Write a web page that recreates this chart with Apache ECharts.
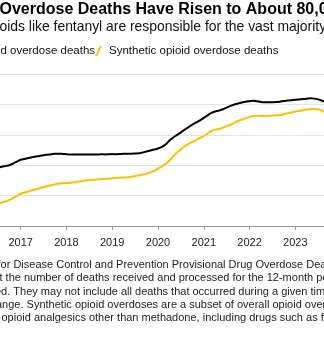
<!DOCTYPE html>
<html><head><meta charset="utf-8">
<script src="https://cdn.jsdelivr.net/npm/echarts@6/dist/echarts.min.js"></script>
<style>html,body{margin:0;padding:0;background:#fff;}#c{width:324px;height:339px;}</style>
</head><body><div id="c"></div>
<script>
// Monthly values (12-month ending totals), starting July 2016
const startYear = 2016;
const startMonth = 7;
const opioidDeaths = [38200,39000,39500,40000,41100,42400,43600,44100,44800,45300,45700,46100,
  46600,46900,47200,47600,47600,47400,47200,47000,47000,47000,47000,47100,
  47000,47100,47000,47200,47100,47200,47300,47200,47300,47500,47600,47600,
  47700,47800,48400,49000,49700,50300,51000,52000,53600,56300,58200,59900,
  61600,63400,65100,66700,68100,69500,71100,72800,74400,75300,75900,76800,
  77900,79000,79900,80600,81300,81800,82100,82400,82100,81600,81400,81400,
  81400,81500,81800,82200,82500,82800,83100,83300,83500,83700,84000,83800,
  83300,82400,81600,80900];
const syntheticDeaths = [14500,15300,16200,17000,18300,19700,21200,22000,22700,23500,24100,24900,
  25700,26200,26800,27400,27900,28200,28200,28400,28800,29100,29500,29900,
  30200,30400,30600,30800,31000,31200,31400,31600,31800,31900,32100,32400,
  32800,33300,33800,34300,35300,36200,37700,39200,40800,43100,45900,48400,
  50400,52500,54000,55300,56500,57900,59200,60900,62500,63400,63800,64700,
  65700,66600,67900,69100,70100,71000,71700,72400,72500,72400,72400,72500,
  72700,72800,73000,73600,74200,74700,75300,75700,76100,76600,77000,77000,
  76800,75700,74600,73700];
const yearTicks = [2017,2018,2019,2020,2021,2022,2023];
const seriesNames = ['Opioid overdose deaths','Synthetic opioid overdose deaths'];
const titleText = 'Opioid Overdose Deaths Have Risen to About 80,000';
const subtitleText = 'Synthetic opioids like fentanyl are responsible for the vast majority of deaths';
const footerLines = [
  'Source: Centers for Disease Control and Prevention Provisional Drug Overdose Death Counts',
  'Note: Data reflect the number of deaths received and processed for the 12-month period ending',
  'in the month indicated. They may not include all deaths that occurred during a given time period',
  'and are subject to change. Synthetic opioid overdoses are a subset of overall opioid overdoses',
  'and include opioid analgesics other than methadone, including drugs such as fentanyl.'
];

function toPairs(arr){
  return arr.map((v,i)=>[startYear + (startMonth-1+i)/12, v]);
}
const mc = document.createElement('canvas').getContext('2d');
function w(text, font){ mc.font = font; return mc.measureText(text).width; }

const F = '"Liberation Sans", Arial, sans-serif';
const titleFont = 'bold 16px ' + F;
const subFont = '13.9px ' + F;
const footFont = '11px ' + F;
const legendFont = '11.5px ' + F;

const footPrefixes = ['Source: Centers ', 'Note: Data reflec', 'in the month indicat', 'and are subject to ch', 'and include '];
const footOffsets = [-2.5, -0.5, -5, -4, 1.5];
const footY = [265, 278.3, 291.7, 305, 318.3];

const graphics = [
  {type:'text', x: -w('Opioid ', titleFont) - 0.5, y: 9.5, style:{text:titleText, font:titleFont, fill:'#000', textVerticalAlign:'middle'}},
  {type:'text', x: -w('Synthetic opi', subFont) - 0.5, y: 27.5, style:{text:subtitleText, font:subFont, fill:'#111', textVerticalAlign:'middle'}}
];
footerLines.forEach((t,i)=>{
  graphics.push({type:'text', x: -w(footPrefixes[i], footFont) + footOffsets[i], y: footY[i],
    style:{text:t, font:footFont, fill:'#222', textVerticalAlign:'middle'}});
});

const iconW = 7, iconGap = 5;
const legendLeft = 3 - iconW - iconGap - w('Opioid ', legendFont);

const chart = echarts.init(document.getElementById('c'), null, {renderer:'canvas'});
chart.setOption({
  animation:false,
  backgroundColor:'#fff',
  graphic: graphics,
  legend: {
    left: legendLeft, top: 40, itemWidth: iconW, itemHeight: 11, itemGap: 0,
    icon: 'path://M0,10 L5,0 L7,0 L2,10 Z',
    textStyle:{fontFamily:'"Liberation Sans", Arial, sans-serif', fontSize:11.5, color:'#111', padding:[0,0,0,2]},
    data: seriesNames
  },
  grid: {left:0, right:0, top:74, bottom:113, containLabel:false},
  xAxis: {
    type:'value', min: 2016.548, max: 2023.627,
    axisLine:{show:true, lineStyle:{color:'#999', width:1}},
    axisTick:{show:true, customValues: yearTicks, length:4, lineStyle:{color:'#999'}},
    axisLabel:{show:true, customValues: yearTicks, formatter: v=>String(Math.round(v)), fontFamily:'"Liberation Sans", Arial, sans-serif', fontSize:11, color:'#222', margin:11},
    splitLine:{show:false}
  },
  yAxis: {
    type:'value', min:0, max:100000, interval:20000,
    axisLine:{show:false}, axisTick:{show:false}, axisLabel:{show:false},
    splitLine:{show:true, lineStyle:{color:'#e3e3e3', width:1}}
  },
  series: [
    {name: seriesNames[0], type:'line', data: toPairs(opioidDeaths), showSymbol:false, smooth:0.3,
     lineStyle:{color:'#000', width:2}, itemStyle:{color:'#000'}, clip:true},
    {name: seriesNames[1], type:'line', data: toPairs(syntheticDeaths), showSymbol:false, smooth:0.3,
     lineStyle:{color:'#FFBF00', width:2}, itemStyle:{color:'#FFBF00'}, clip:true}
  ]
});
</script></body></html>
